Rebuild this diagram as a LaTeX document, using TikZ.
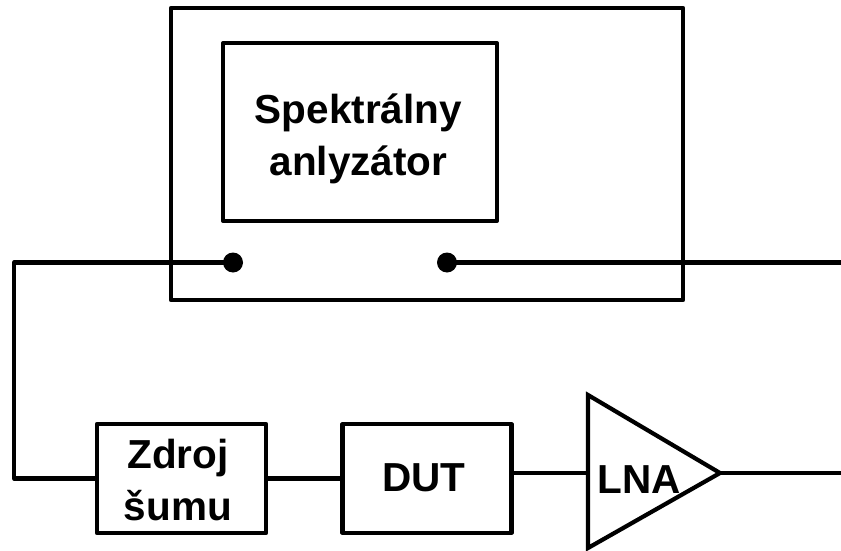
\documentclass[tikz,border=0pt]{standalone}
\usepackage{fontspec}
\setmainfont{Liberation Sans}
\begin{document}
\begin{tikzpicture}[x=1pt,y=-1pt,
  box/.style={draw=black,line width=4.2pt,line join=round,fill=none,inner sep=0pt},
  lbl/.style={inner sep=0pt,align=center,font=\bfseries\fontsize{40.5}{52}\selectfont},
  wire/.style={draw=black,line width=4.2pt,line join=round},
  port/.style={circle,fill=black,draw=none,minimum size=20pt,inner sep=0pt}]
\useasboundingbox (0,0) rectangle (841,551);
\node[box,line width=3.8pt,minimum width=512.5pt,minimum height=292.5pt] (outer) at (427,154) {};
\node[box,minimum width=274pt,minimum height=177.5pt] (sa) at (360,132) {};
\node[lbl] (satext) at (358.5,138.5) {Spektrálny\\anlyzátor};
\node[port] (p1) at (233,262.5) {};
\node[port] (p2) at (447,262.5) {};
\node[box,minimum width=169pt,minimum height=109pt] (zs) at (181.5,478.5) {};
\node[lbl] (zstext) at (178,480) {Zdroj\\šumu};
\node[box,minimum width=169pt,minimum height=108.5pt] (dut) at (427,478.5) {};
\node[lbl] (duttext) at (424,478) {DUT};
\coordinate (a) at (588,395);
\coordinate (b) at (588,548);
\coordinate (c) at (720,473);
\draw[wire,line join=miter] (a) -- (c) -- (b) -- cycle;
\node[lbl,anchor=base] (lna) at (639,493.5) {LNA};
\coordinate (r1) at (841,262.5);
\coordinate (r2) at (841,473);
\coordinate (lc) at (14,262.5);
\coordinate (ld) at (14,478.5);
\draw[wire] (p1.center) -- (lc) -- (ld) -- (zs.west);
\draw[wire] (p2.center) -- (r1);
\draw[wire] (zs.east) -- (dut.west);
\draw[wire] (dut.east |- c) -- (a |- c);
\draw[wire,line width=3.5pt] (c) -- (r2);
\end{tikzpicture}
\end{document}
